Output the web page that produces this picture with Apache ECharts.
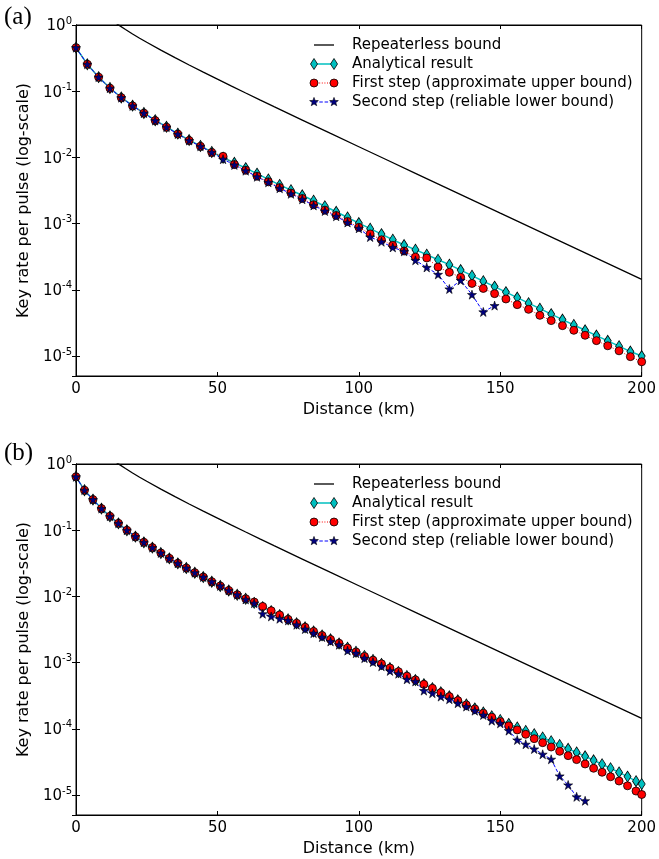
<!DOCTYPE html>
<html>
<head>
<meta charset="utf-8">
<script src="https://cdn.jsdelivr.net/npm/echarts@6/dist/echarts.min.js"></script>
<style>
  html, body { margin: 0; padding: 0; background: #fff; }
  #chart { width: 659px; height: 859px; }
</style>
</head>
<body>
<div id="chart"></div>
<script>
// Distances (km) of the computed points in each panel
const kmA = [0,4,8,12,16,20,24,28,32,36,40,44,48,52,56,60,64,68,72,76,80,84,88,92,96,100,104,108,112,116,120,124,128,132,136,140,144,148,152,156,160,164,168,172,176,180,184,188,192,196,200];
const kmB = [0,3,6,9,12,15,18,21,24,27,30,33,36,39,42,45,48,51,54,57,60,63,66,69,72,75,78,81,84,87,90,93,96,99,102,105,108,111,114,117,120,123,126,129,132,135,138,141,144,147,150,153,156,159,162,165,168,171,174,177,180,183,186,189,192,195,198,200];

// Repeaterless (PLOB) bound, shared by both panels
const boundKm = [10,12,15,17.5,20,22.5,25,30,35,40,45,50,55,60,65,70,75,80,90,100,110,120,130,140,150,160,170,180,190,200];
const boundRate = [1.438,1.236,1.0035,0.854,0.732,0.632,0.548,0.417,0.321,0.249,0.1941,0.152,0.1194,0.094,0.0742,0.0586,0.04636,0.0367,0.02304,0.0145,0.009133,0.005755,0.003629,0.002288,0.001443,0.000911,0.0005745,0.0003625,0.0002287,0.0001443];

// Panel (a)
const analyticalA = [0.455,0.255,0.163,0.112,0.0805,0.0605,0.0470,0.0365,0.0290,0.0229,0.0183,0.0149,0.0121,0.0099,0.0083,0.0069,0.0057,0.00465,0.00385,0.0032,0.00268,0.00222,0.00183,0.00151,0.00124,0.00102,0.00084,0.000695,0.000572,0.000475,0.000404,0.00034,0.000285,0.00024,0.000199,0.000164,0.000135,0.000112,0.0000925,0.0000765,0.000063,0.000052,0.000043,0.0000356,0.0000295,0.0000245,0.0000204,0.000017,0.0000141,0.0000117,0.00001];
const firstA = [0.455,0.255,0.163,0.111,0.0800,0.0600,0.0466,0.0360,0.0286,0.0225,0.0180,0.0147,0.0119,0.0104,0.0078,0.0064,0.0052,0.00428,0.0035,0.0029,0.0024,0.00193,0.0016,0.00133,0.00108,0.00088,0.0007,0.00057,0.00047,0.000386,0.000313,0.000303,0.000221,0.000184,0.000155,0.000125,0.000105,0.0000877,0.0000728,0.0000598,0.0000508,0.0000412,0.0000343,0.0000288,0.0000245,0.0000206,0.0000171,0.0000143,0.000012,0.0000098,0.0000082];
const secondA = [0.455,0.255,0.163,0.111,0.0800,0.0600,0.0466,0.0360,0.0286,0.0225,0.0180,0.0147,0.0119,0.0094,0.0077,0.0063,0.0051,0.0042,0.00342,0.00282,0.00233,0.00188,0.00155,0.00129,0.00104,0.00085,0.000627,0.000533,0.000438,0.000381,0.000279,0.000218,0.000171,0.000103,0.000139,0.0000847,0.0000464,0.0000578];

// Panel (b)
const analyticalB = [0.64,0.402,0.29,0.212,0.162,0.127,0.0997,0.080,0.0656,0.0546,0.0453,0.0376,0.0316,0.0269,0.0228,0.0196,0.0167,0.0144,0.0123,0.0106,0.00923,0.0080,0.0069,0.0060,0.00522,0.00452,0.00393,0.00342,0.00296,0.00258,0.00225,0.00195,0.00168,0.00146,0.00126,0.0011,0.000955,0.000828,0.000722,0.000628,0.000546,0.000474,0.000412,0.000357,0.00031,0.00027,0.000234,0.000204,0.000177,0.000155,0.000136,0.000119,0.000105,0.000093,0.000083,0.000074,0.000065,0.000057,0.00005,0.000044,0.0000385,0.0000335,0.0000292,0.0000254,0.000022,0.000019,0.0000162,0.0000147];
const firstB = [0.64,0.402,0.29,0.212,0.162,0.127,0.0997,0.080,0.0656,0.0546,0.0453,0.0376,0.0316,0.0269,0.0228,0.0196,0.0167,0.0144,0.0123,0.0106,0.00923,0.00822,0.00706,0.00608,0.00525,0.0045,0.00393,0.00342,0.00296,0.00257,0.00224,0.00196,0.00166,0.00145,0.00124,0.00109,0.00096,0.00083,0.00073,0.000625,0.000549,0.00047,0.00041,0.000353,0.000307,0.000267,0.00023,0.0002,0.000172,0.00015,0.000129,0.000111,0.0000962,0.0000828,0.0000711,0.0000618,0.0000532,0.0000458,0.0000394,0.0000343,0.0000295,0.0000254,0.0000221,0.0000189,0.0000163,0.0000138,0.0000115,0.0000102];
const secondB = [0.64,0.402,0.29,0.212,0.162,0.127,0.0997,0.080,0.0656,0.0546,0.0453,0.0376,0.0316,0.0269,0.0228,0.0196,0.0167,0.0144,0.0123,0.0106,0.0090,0.0079,0.00547,0.00498,0.0046,0.00434,0.00373,0.00321,0.00279,0.00243,0.00209,0.00186,0.00152,0.00139,0.00117,0.00102,0.00088,0.00075,0.00068,0.00056,0.00052,0.000378,0.000345,0.000307,0.00028,0.000244,0.000217,0.000188,0.000162,0.000133,0.000121,0.000094,0.0000679,0.0000585,0.0000496,0.0000413,0.0000347,0.0000194,0.0000142,0.0000094,0.0000082];

const xTicks = [0, 50, 100, 150, 200];
const legendNames = ['Repeaterless bound', 'Analytical result', 'First step (approximate upper bound)', 'Second step (reliable lower bound)'];

const SANS = 'DejaVu Sans';
const CYAN = '#00bfbf';
const STAR = 'path://M50,2 L61.2,36.2 L97.6,36.2 L68.2,57.6 L79.4,92 L50,70.8 L20.6,92 L31.8,57.6 L2.4,36.2 L38.8,36.2 Z';

const pairs = (xs, ys) => ys.map((y, i) => [xs[i], y]);

function yLabel(v) {
  const lg = Math.log10(v);
  const e = Math.round(lg);
  if (Math.abs(lg - e) > 1e-6) return '';
  return '{b|10}{s|' + e + '}';
}

const grids = [
  { left: 76, width: 569, top: 25, height: 351 },
  { left: 76, width: 569, top: 464, height: 351 }
];

const xAxes = [], yAxes = [], series = [];
grids.forEach((g, gi) => {
  xAxes.push({
    type: 'value', gridIndex: gi, min: xTicks[0], max: xTicks[xTicks.length - 1], interval: 50,
    name: 'Distance (km)', nameLocation: 'middle', nameGap: 26,
    nameTextStyle: { fontFamily: SANS, fontSize: 16, color: '#000' },
    axisLine: { show: true, lineStyle: { color: '#000', width: 1 } },
    axisTick: { show: true, inside: true, length: 4, lineStyle: { color: '#000' } },
    axisLabel: { fontFamily: SANS, fontSize: 15, color: '#000', margin: 6 },
    splitLine: { show: false }
  });
  xAxes.push({
    type: 'value', gridIndex: gi, position: 'top', min: 0, max: 200, interval: 50,
    axisLine: { show: true, lineStyle: { color: '#000', width: 1 } },
    axisTick: { show: true, inside: true, length: 4, lineStyle: { color: '#000' } },
    axisLabel: { show: false }, splitLine: { show: false }
  });
  yAxes.push({
    type: 'log', gridIndex: gi, min: 5e-6, max: 1, logBase: 10,
    name: 'Key rate per pulse (log-scale)', nameLocation: 'middle', nameGap: 44, nameRotate: 90,
    nameTextStyle: { fontFamily: SANS, fontSize: 16, color: '#000' },
    axisLine: { show: true, lineStyle: { color: '#000', width: 1 } },
    axisTick: { show: true, inside: true, length: 4, lineStyle: { color: '#000' } },
    axisLabel: {
      margin: 4, formatter: yLabel, showMinLabel: false,
      rich: {
        b: { fontFamily: SANS, fontSize: 15, color: '#000', verticalAlign: 'bottom', lineHeight: 18 },
        s: { fontFamily: SANS, fontSize: 10, color: '#000', verticalAlign: 'top', lineHeight: 18 }
      }
    },
    splitLine: { show: false }
  });
  yAxes.push({
    type: 'log', gridIndex: gi, position: 'right', min: 5e-6, max: 1, logBase: 10,
    axisLine: { show: true, lineStyle: { color: '#000', width: 1 } },
    axisTick: { show: true, inside: true, length: 4, lineStyle: { color: '#000' } },
    axisLabel: { show: false }, splitLine: { show: false }
  });
});

function addPanel(gi, km, analytical, first, second) {
  const xi = gi * 2, yi = gi * 2;
  series.push({
    name: legendNames[0], type: 'line', xAxisIndex: xi, yAxisIndex: yi,
    data: pairs(boundKm, boundRate), showSymbol: false, symbol: 'none',
    lineStyle: { color: '#000', width: 1.3 }, clip: true, silent: true
  });
  series.push({
    name: legendNames[1], type: 'line', xAxisIndex: xi, yAxisIndex: yi,
    data: pairs(km, analytical), symbol: 'diamond', symbolSize: [7, 11],
    lineStyle: { color: CYAN, width: 1.5 },
    itemStyle: { color: CYAN, borderColor: '#000', borderWidth: 0.8 }, silent: true
  });
  series.push({
    name: legendNames[2], type: 'line', xAxisIndex: xi, yAxisIndex: yi,
    data: pairs(km, first), symbol: 'circle', symbolSize: 8,
    lineStyle: { color: '#ff0000', width: 1, type: [1, 1.6] },
    itemStyle: { color: '#ff0000', borderColor: '#000', borderWidth: 0.8 }, silent: true
  });
  series.push({
    name: legendNames[3], type: 'line', xAxisIndex: xi, yAxisIndex: yi,
    data: pairs(km, second), symbol: STAR, symbolSize: 9,
    lineStyle: { color: '#0000ff', width: 1, type: [3.5, 1.8] },
    itemStyle: { color: '#000080', borderColor: '#000', borderWidth: 0.6 }, silent: true
  });
}
addPanel(0, kmA, analyticalA, firstA, secondA);
addPanel(1, kmB, analyticalB, firstB, secondB);

// Hand-drawn legend entries (two markers joined by the line style)
function starPoints(cx, cy, ro, ri) {
  const p = [];
  for (let k = 0; k < 10; k++) {
    const r = k % 2 ? ri : ro;
    const a = -Math.PI / 2 + k * Math.PI / 5;
    p.push([cx + r * Math.cos(a), cy + r * Math.sin(a)]);
  }
  return p;
}
function legendGraphics(y0) {
  const out = [];
  const x1 = 314, x2 = 334, tx = 352, dy = 19;
  const font = '15px "' + SANS + '"';
  legendNames.forEach((name, i) => {
    const y = y0 + i * dy;
    const line = { type: 'line', shape: { x1: x1, y1: y, x2: x2, y2: y }, style: { stroke: '#000', lineWidth: 1.3 } };
    if (i === 1) line.style = { stroke: CYAN, lineWidth: 1.5 };
    if (i === 2) line.style = { stroke: '#ff0000', lineWidth: 1, lineDash: [1, 1.6] };
    if (i === 3) line.style = { stroke: '#0000ff', lineWidth: 1, lineDash: [3.5, 1.8] };
    out.push(line);
    [x1, x2].forEach(x => {
      if (i === 1) out.push({ type: 'polygon', shape: { points: [[x, y - 5.5], [x + 3.5, y], [x, y + 5.5], [x - 3.5, y]] }, style: { fill: CYAN, stroke: '#000', lineWidth: 0.8 } });
      if (i === 2) out.push({ type: 'circle', shape: { cx: x, cy: y, r: 4 }, style: { fill: '#ff0000', stroke: '#000', lineWidth: 0.8 } });
      if (i === 3) out.push({ type: 'polygon', shape: { points: starPoints(x, y, 4.6, 1.9) }, style: { fill: '#000080', stroke: '#000', lineWidth: 0.6 } });
    });
    out.push({ type: 'text', x: tx, y: y, style: { text: name, font: font, fill: '#000', textVerticalAlign: 'middle', verticalAlign: 'middle' } });
  });
  return out;
}

const graphic = [].concat(
  legendGraphics(45),
  legendGraphics(484),
  [
    { type: 'text', left: 4, top: 5, style: { text: '(a)', font: '25px "Liberation Serif"', fill: '#000' } },
    { type: 'text', left: 4, top: 441, style: { text: '(b)', font: '25px "Liberation Serif"', fill: '#000' } }
  ]
);

const chart = echarts.init(document.getElementById('chart'), null, { renderer: 'canvas' });
chart.setOption({
  animation: false,
  backgroundColor: '#fff',
  grid: grids.map(g => Object.assign({ show: true, borderColor: '#000', borderWidth: 1, backgroundColor: 'transparent' }, g)),
  xAxis: xAxes,
  yAxis: yAxes,
  series: series,
  graphic: graphic
});
</script>
</body>
</html>
